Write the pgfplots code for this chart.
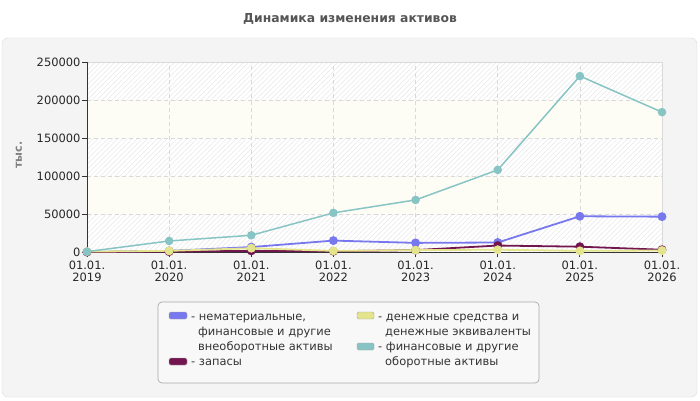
\documentclass[border=0pt]{standalone}
\usepackage{fontspec}
\setmainfont{DejaVu Sans}
\usepackage{pgfplots}
\pgfplotsset{compat=1.18}
\usetikzlibrary{patterns.meta}
\definecolor{cPur}{RGB}{120,120,238}
\definecolor{cMar}{RGB}{115,22,80}
\definecolor{cYel}{RGB}{228,228,140}
\definecolor{cTeal}{RGB}{136,196,196}
\definecolor{panel}{RGB}{244,244,244}
\definecolor{panelborder}{RGB}{220,220,220}
\definecolor{titlegray}{RGB}{85,85,85}
\definecolor{legfill}{RGB}{248,248,248}
\definecolor{legborder}{RGB}{170,170,170}
\definecolor{plainband}{RGB}{253,253,245}
\definecolor{hatchcol}{RGB}{232,232,232}
\begin{document}
\begin{tikzpicture}[x=1bp,y=1bp]
\fill[white] (0,0) rectangle (700,400);
\filldraw[fill=panel, draw=panelborder, rounded corners=6bp] (2,3) rectangle (697,362);
\node[font=\bfseries\fontsize{12.4}{14}\selectfont, text=titlegray] at (350,381) {Динамика изменения активов};
\node[rotate=90, font=\bfseries\fontsize{11}{13}\selectfont, text=gray] at (19,245) {тыс.};
% plot area background bands (0..250000 over 148..338)
\fill[plainband] (87,148) rectangle (662,338);
\foreach \lo in {148,224,300} {
  \fill[white] (87,\lo) rectangle (662,\lo+38);
  \fill[pattern={Lines[angle=45,distance=3.5bp,line width=0.5bp]}, pattern color=hatchcol] (87,\lo) rectangle (662,\lo+38);
}
\draw[color=black!15, line width=1bp] (87,338) -- (662,338) -- (662,148);
\begin{axis}[
  at={(87bp,148bp)}, anchor=south west,
  scale only axis, width=575bp, height=190bp,
  xmin=0, xmax=7, ymin=0, ymax=250000,
  axis lines*=left,
  axis line style={color=black!80, line width=0.8bp},
  xtick={0,1,2,3,4,5,6,7},
  xticklabels={{01.01.\\2019},{01.01.\\2020},{01.01.\\2021},{01.01.\\2022},{01.01.\\2023},{01.01.\\2024},{01.01.\\2025},{01.01.\\2026}},
  xticklabel style={align=center, font=\fontsize{11.5}{13}\selectfont, text=black!85},
  ytick={0,50000,100000,150000,200000,250000},
  yticklabel style={font=\fontsize{11.5}{13}\selectfont, text=black!85, xshift=2bp},
  /pgf/number format/assume math mode=true,
  /pgf/number format/fixed,
  /pgf/number format/set thousands separator={},
  scaled y ticks=false,
  tick align=outside,
  major tick length=5bp,
  tick style={color=black!80, line width=0.8bp},
  grid=major,
  major grid style={dashed, dash pattern=on 4bp off 3bp, color=black!15, line width=0.7bp},
  clip=false,
]
\addplot[cPur, line width=1.8bp, mark=*, mark size=3.5bp, mark options={fill=cPur, draw=cPur}] coordinates {
 (0,0) (1,1500) (2,6500) (3,15000) (4,12000) (5,12500) (6,47000) (7,46500)};
\addplot[cMar, line width=1.8bp, mark=*, mark size=3.5bp, mark options={fill=cMar, draw=cMar}] coordinates {
 (0,0) (1,500) (2,1500) (3,1000) (4,2500) (5,8500) (6,7000) (7,3000)};
\addplot[cYel, line width=1.8bp, mark=*, mark size=3.5bp, mark options={fill=cYel, draw=cYel}] coordinates {
 (0,500) (1,1500) (2,5000) (3,1500) (4,2500) (5,3000) (6,1500) (7,2000)};
\addplot[cTeal, line width=1.5bp, mark=*, mark size=3.5bp, mark options={fill=cTeal, draw=cTeal}] coordinates {
 (0,500) (1,14500) (2,22000) (3,51500) (4,68500) (5,108000) (6,231500) (7,184000)};
\end{axis}
% legend
\filldraw[fill=legfill, draw=legborder, rounded corners=4bp, line width=0.7bp] (158,17) rectangle (539,98);
\begin{scope}[every node/.style={anchor=base west, inner sep=0pt, font=\fontsize{11.5}{13}\selectfont, text=black!80}]
\filldraw[fill=cPur, draw=black!35, rounded corners=1.5bp] (169,81) rectangle (187,88);
\node at (191,79.5) {- нематериальные,};
\node at (198,64.5) {финансовые и другие};
\node at (198,49.5) {внеоборотные активы};
\filldraw[fill=cMar, draw=black!35, rounded corners=1.5bp] (169,35) rectangle (187,42);
\node at (191,34.5) {- запасы};
\filldraw[fill=cYel, draw=black!35, rounded corners=1.5bp] (357,81) rectangle (374,88);
\node at (378,79.5) {- денежные средства и};
\node at (385,64.5) {денежные эквиваленты};
\filldraw[fill=cTeal, draw=black!35, rounded corners=1.5bp] (357,50) rectangle (374,57);
\node at (378,49.5) {- финансовые и другие};
\node at (385,34.5) {оборотные активы};
\end{scope}
\end{tikzpicture}
\end{document}
